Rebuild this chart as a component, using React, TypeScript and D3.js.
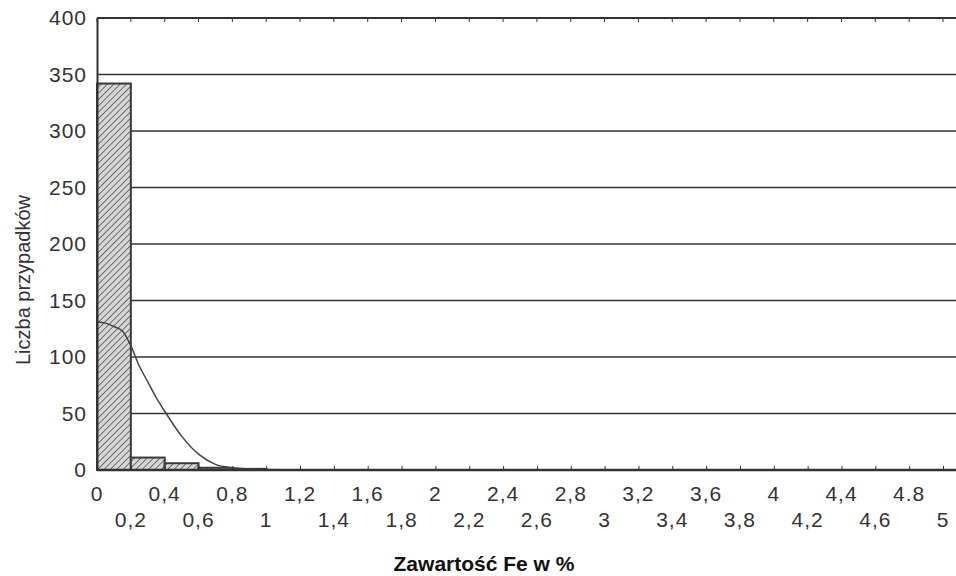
import React from "react";
import * as d3 from "d3";

// histogram: bin starts (step 0.2) and counts
const binStarts = [0, 0.2, 0.4, 0.6, 0.8];
const binCounts = [342, 11, 6, 2, 1];
const binWidth = 0.2;

// fitted curve
const curveX = [0, 0.05, 0.1, 0.15, 0.2, 0.25, 0.3, 0.35, 0.4, 0.5, 0.6, 0.7, 0.8, 0.9, 1.0, 1.2, 5.0];
const curveY = [131, 130, 127, 123, 110, 92, 78, 64, 52, 30, 14, 5, 2, 1, 0.5, 0, 0];

// x tick labels (every 0.2, staggered in two rows)
const xTickValues = [0, 0.2, 0.4, 0.6, 0.8, 1, 1.2, 1.4, 1.6, 1.8, 2, 2.2, 2.4, 2.6, 2.8, 3, 3.2, 3.4, 3.6, 3.8, 4, 4.2, 4.4, 4.6, 4.8, 5];
const xTickLabels = ["0", "0,2", "0,4", "0,6", "0,8", "1", "1,2", "1,4", "1,6", "1,8", "2", "2,2", "2,4", "2,6", "2,8", "3", "3,2", "3,4", "3,6", "3,8", "4", "4,2", "4,4", "4,6", "4.8", "5"];
const yTickValues = [0, 50, 100, 150, 200, 250, 300, 350, 400];

const W = 956;
const H = 576;

const App = () => {
    const svgRef = React.useRef<SVGSVGElement>(null);

    React.useEffect(() => {
        const left = 97, top = 18, bottom = 470, xEnd = 943;
        const x = d3.scaleLinear().domain([0, 5]).range([left, xEnd]);
        const y = d3.scaleLinear().domain([0, 400]).range([bottom, top]);
        const font = "'Liberation Sans', Arial, sans-serif";
        const ink = "#333";

        const svg = d3.select(svgRef.current);
        svg.selectAll("*").remove();

        svg.append("rect").attr("width", W).attr("height", H).attr("fill", "#fff");

        // hatch pattern
        const pat = svg.append("defs").append("pattern")
            .attr("id", "hatch")
            .attr("patternUnits", "userSpaceOnUse")
            .attr("width", 4.5).attr("height", 4.5)
            .attr("patternTransform", "rotate(45)");
        pat.append("rect").attr("width", 4.5).attr("height", 4.5).attr("fill", "#d6d6d6");
        pat.append("line").attr("x1", 0).attr("y1", 0).attr("x2", 0).attr("y2", 4.5)
            .attr("stroke", "#555").attr("stroke-width", 1.6);

        // grid lines
        svg.append("g").selectAll("line")
            .data(yTickValues.filter((v) => v > 0))
            .join("line")
            .attr("x1", left).attr("x2", W)
            .attr("y1", (d) => y(d)).attr("y2", (d) => y(d))
            .attr("stroke", ink)
            .attr("stroke-width", (d) => (d === 400 ? 2 : 1.5));

        // top border tick marks
        svg.append("g").selectAll("line")
            .data(xTickValues)
            .join("line")
            .attr("x1", (d) => x(d)).attr("x2", (d) => x(d))
            .attr("y1", y(400)).attr("y2", y(400) + 4)
            .attr("stroke", ink).attr("stroke-width", 1);

        // bars
        svg.append("g").selectAll("rect")
            .data(binStarts.map((s, i) => ({ s, c: binCounts[i] })))
            .join("rect")
            .attr("x", (d) => x(d.s))
            .attr("width", (d) => x(d.s + binWidth) - x(d.s))
            .attr("y", (d) => y(d.c))
            .attr("height", (d) => y(0) - y(d.c))
            .attr("fill", "url(#hatch)")
            .attr("stroke", "#3a3a3a")
            .attr("stroke-width", 2);

        // fitted curve
        const line = d3.line<number>()
            .x((d, i) => x(curveX[i]))
            .y((d) => y(d))
            .curve(d3.curveMonotoneX);
        svg.append("path")
            .attr("d", line(curveY))
            .attr("fill", "none")
            .attr("stroke", "#444")
            .attr("stroke-width", 1.5);

        // x axis
        const xAxis = d3.axisBottom(x)
            .tickValues(xTickValues)
            .tickSize(-4)
            .tickFormat(() => "");
        const xg = svg.append("g").attr("transform", `translate(0,${bottom})`).call(xAxis);
        xg.select(".domain").remove();
        xg.selectAll("line").attr("stroke", ink);
        svg.append("line")
            .attr("x1", left).attr("x2", W).attr("y1", bottom).attr("y2", bottom)
            .attr("stroke", ink).attr("stroke-width", 2.5);

        svg.append("g").selectAll("text")
            .data(xTickValues)
            .join("text")
            .attr("x", (d) => x(d))
            .attr("y", (d, i) => (i % 2 === 0 ? 501 : 527))
            .attr("text-anchor", "middle")
            .attr("font-family", font)
            .attr("font-size", 21)
            .attr("letter-spacing", 1)
            .attr("fill", ink)
            .text((d, i) => xTickLabels[i]);

        // y axis
        const yAxis = d3.axisLeft(y).tickValues(yTickValues).tickSize(0).tickPadding(10);
        const yg = svg.append("g").attr("transform", `translate(${left},0)`).call(yAxis);
        yg.select(".domain").attr("stroke", ink).attr("stroke-width", 2);
        yg.selectAll("text")
            .attr("font-family", font)
            .attr("font-size", 21)
            .attr("letter-spacing", 1)
            .attr("fill", ink);

        // titles
        svg.append("text")
            .attr("transform", `translate(30,280) rotate(-90)`)
            .attr("text-anchor", "middle")
            .attr("font-family", font)
            .attr("font-size", 20)
            .attr("fill", ink)
            .text("Liczba przypadków");

        svg.append("text")
            .attr("x", 484)
            .attr("y", 571)
            .attr("text-anchor", "middle")
            .attr("font-family", font)
            .attr("font-size", 21)
            .attr("font-weight", "bold")
            .attr("fill", "#111")
            .text("Zawartość Fe w %");
    }, []);

    return (
        <svg
            ref={svgRef}
            width={W}
            height={H}
            style={{ position: "absolute", left: 0, top: 0 }}
        />
    );
};

export default App;
